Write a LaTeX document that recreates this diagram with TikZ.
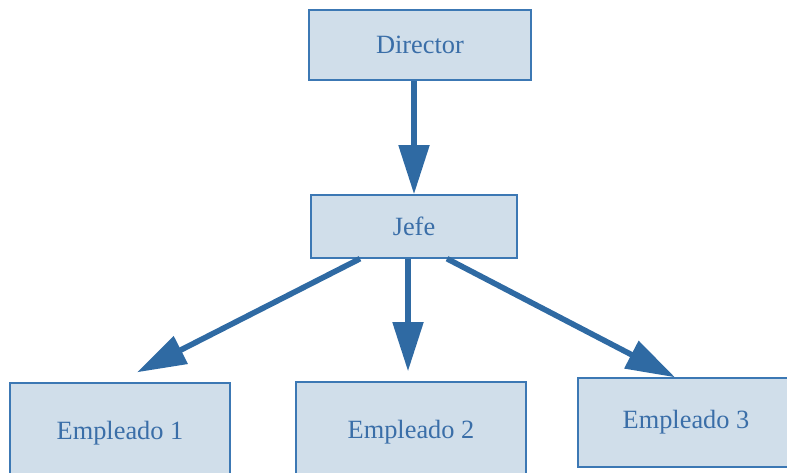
\documentclass[tikz,border=0pt]{standalone}
\usepackage{fontspec}
\setmainfont{Liberation Serif}
\usetikzlibrary{arrows.meta, positioning}

\definecolor{cajafondo}{HTML}{D0DEEA}
\definecolor{cajaborde}{HTML}{3C78B4}
\definecolor{textoazul}{HTML}{3A6EA8}
\definecolor{flechaazul}{HTML}{2F6AA3}

\tikzset{
	puesto/.style={rectangle, draw=cajaborde, fill=cajafondo, line width=0.8pt,
		text=textoazul, font=\fontsize{15}{17}\selectfont, inner sep=0pt},
	flecha/.style={draw=flechaazul, line width=3.2pt,
		-{Triangle[length=28pt,width=17pt]}}
}

\begin{document}
\begin{tikzpicture}
					\useasboundingbox (0,0) rectangle (15.74,-9.44);

					\node[puesto, minimum width=4.44cm, minimum height=1.4cm] (director) at (8.4,-0.9) {Director};
					\node[puesto, minimum width=4.12cm, minimum height=1.26cm] (jefe) at (8.28,-4.53) {Jefe};

					%% empleados
					\node[puesto, minimum width=4.4cm, minimum height=2cm] (emp1) at (2.4,-8.66) {Empleado 1};
					\node[puesto, minimum width=4.6cm, minimum height=2cm] (emp2) at (8.22,-8.64) {Empleado 2};
					\node[puesto, minimum width=4.32cm, minimum height=1.78cm] (emp3) at (13.72,-8.45) {Empleado 3};

					\draw[flecha] (director.south -| jefe.north) -- (jefe.north);
					\draw[flecha] ([xshift=-1.08cm]jefe.south) -- ([xshift=0.34cm,yshift=0.2cm]emp1.north);
					\draw[flecha] ([xshift=-0.12cm]jefe.south) -- ([xshift=-0.06cm,yshift=0.2cm]emp2.north);
					\draw[flecha] ([xshift=0.66cm]jefe.south) -- ([xshift=-0.22cm]emp3.north);
				\end{tikzpicture}
\end{document}
